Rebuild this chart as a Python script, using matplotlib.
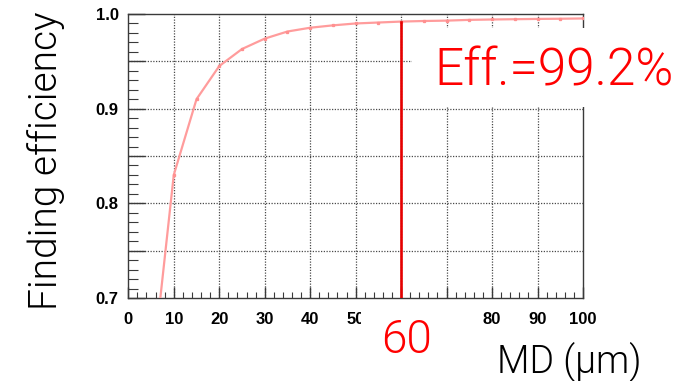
import matplotlib
matplotlib.use("Agg")
import matplotlib.pyplot as plt
from matplotlib import font_manager
from matplotlib.patches import Rectangle
from matplotlib.ticker import MultipleLocator

# Track-finding efficiency versus MD cut
md_um = [5, 10, 15, 20, 25, 30, 35, 40, 45, 50, 55, 60, 65, 70, 75, 80, 85, 90, 95, 100]
efficiency = [0.610, 0.830, 0.910, 0.945, 0.963, 0.974, 0.9815, 0.9855, 0.988, 0.990,
              0.991, 0.992, 0.9926, 0.993, 0.9938, 0.9942, 0.9945, 0.9948, 0.995, 0.9953]
cut_md = 60
cut_eff = 0.992
x_ticks = [0, 10, 20, 30, 40, 50, 60, 70, 80, 90, 100]
x_tick_labels = ["0", "10", "20", "30", "40", "50", "", "", "80", "90", "100"]
y_ticks = [0.7, 0.75, 0.8, 0.85, 0.9, 0.95, 1.0]
y_tick_labels = ["0.7", "", "0.8", "", "0.9", "", "1.0"]


def pick_light_family():
    weights = {}
    for f in font_manager.fontManager.ttflist:
        w = f.weight if isinstance(f.weight, int) else 400
        weights.setdefault(f.name, set()).add(w)
    for fam in ["Roboto", "Inter", "Lato", "Open Sans"]:
        if 300 in weights.get(fam, set()):
            return fam, 300
    return "DejaVu Sans", 400


LIGHT, LIGHT_W = pick_light_family()
W, H = 676, 381
fig = plt.figure(figsize=(W / 100, H / 100), dpi=100)
fig.patch.set_facecolor("white")


def fx(px):
    return px / W


def fy(py):
    return 1 - py / H


ax = fig.add_axes([fx(128.3), fy(298), fx(583) - fx(128.3), fy(14) - fy(298)])
ax.set_xlim(0, 100)
ax.set_ylim(0.7, 1.0)

frame_c = "#3a3a3a"
for s in ax.spines.values():
    s.set_color(frame_c)
    s.set_linewidth(1.0)

# grid at every 10 in x and every 0.05 in y
for gx in range(10, 100, 10):
    ax.axvline(gx, color="#4a4a4a", lw=0.9, ls=(0, (1, 1.2)), zorder=1)
for gy in [0.75, 0.8, 0.85, 0.9, 0.95]:
    ax.axhline(gy, color="#4a4a4a", lw=0.9, ls=(0, (1, 1.2)), zorder=1)

ax.xaxis.set_minor_locator(MultipleLocator(2))
ax.yaxis.set_minor_locator(MultipleLocator(0.01))
ax.set_xticks(x_ticks)
ax.set_xticklabels(x_tick_labels)
ax.set_yticks(y_ticks)
ax.set_yticklabels(y_tick_labels)
ax.tick_params(axis="x", which="major", direction="in", length=8, width=1, color=frame_c,
               pad=10, labelsize=12)
ax.tick_params(axis="x", which="minor", direction="in", length=4.5, width=0.8, color=frame_c)
ax.tick_params(axis="y", which="major", direction="in", length=12, width=1, color=frame_c,
               pad=7, labelsize=12)
ax.tick_params(axis="y", which="minor", direction="in", length=7, width=0.8, color=frame_c)
for lab in ax.get_xticklabels() + ax.get_yticklabels():
    lab.set_fontfamily("Liberation Sans")
    lab.set_fontweight("bold")

ax.plot(md_um, efficiency, color="#ff9c9c", lw=1.6, marker="s", ms=1.4,
        mec="#ff9090", mfc="#ff9090", zorder=3, clip_on=True)
ax.plot([cut_md, cut_md], [0.7, cut_eff], color="#e60000", lw=1.9, zorder=4)

# white panels behind the annotations
fig.add_artist(Rectangle((fx(412), fy(107)), fx(676) - fx(412), fy(28) - fy(107),
                         transform=fig.transFigure, facecolor="white", edgecolor="none",
                         zorder=10))
fig.add_artist(Rectangle((fx(361), fy(362)), fx(480) - fx(361), fy(303) - fy(362),
                         transform=fig.transFigure, facecolor="white", edgecolor="none",
                         zorder=10))

fig.text(fx(434), fy(86), f"Eff.={cut_eff * 100:.1f}%", color="#ff0000", fontsize=37,
         family=LIGHT, fontweight=LIGHT_W, ha="left", va="baseline", zorder=11)
fig.text(fx(407), fy(353), str(cut_md), color="#ff0000", fontsize=33,
         family=LIGHT, fontweight=LIGHT_W, ha="center", va="baseline", zorder=11)
fig.text(fx(497), fy(373), "MD (μm)", color="black", fontsize=27,
         family=LIGHT, fontweight=LIGHT_W, ha="left", va="baseline", zorder=11)
fig.text(fx(57), fy(161), "Finding efficiency", color="black", fontsize=28,
         family=LIGHT, fontweight=LIGHT_W, rotation=90, rotation_mode="anchor",
         ha="center", va="baseline", zorder=11)

fig.savefig("out.png", dpi=100, facecolor="white")
